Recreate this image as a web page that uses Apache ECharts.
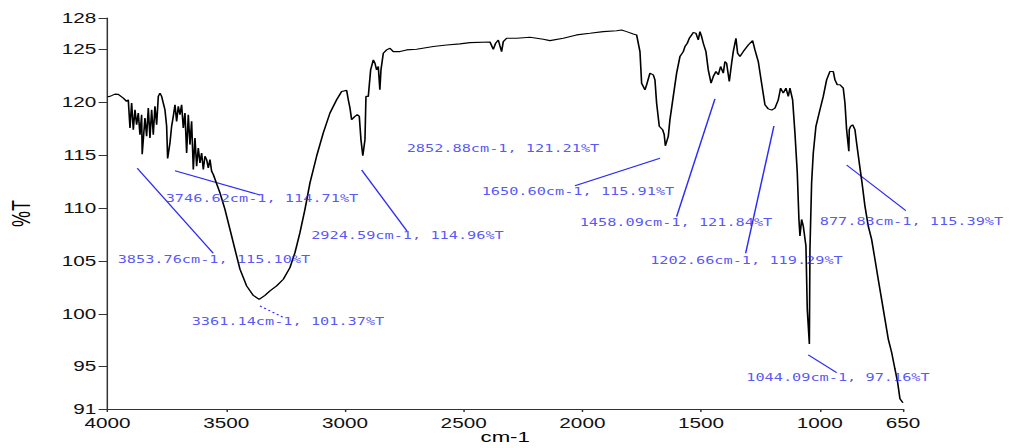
<!DOCTYPE html>
<html>
<head>
<meta charset="utf-8">
<title>FTIR spectrum</title>
<script src="https://cdn.jsdelivr.net/npm/echarts@6/dist/echarts.min.js"></script>
<style>
  html, body { margin: 0; padding: 0; background: #fff; }
  #wrap { width: 1011px; height: 448px; overflow: hidden; }
  /* the spectrometer export uses a horizontally widened raster, so the chart is laid out narrower and stretched */
  #chart { width: 683px; height: 448px; transform: scaleX(1.48023); transform-origin: 0 0; }
</style>
</head>
<body>
<div id="wrap"><div id="chart"></div></div>
<script>
// Spectrum: wavenumber (cm-1) and transmittance (%T)
const wavenumbers = [
  4000, 3989.5, 3968.4, 3954.4, 3933.3, 3919.3, 3912.3, 3905.2, 3898.2, 3891.2,
  3884.2, 3877.2, 3870.2, 3863.1, 3856.1, 3853.76, 3842.1, 3835.1, 3828.0, 3821.0,
  3814.0, 3807.0, 3800.0, 3792.9, 3785.9, 3778.9, 3771.9, 3764.9, 3757.9, 3750.8,
  3746.62, 3736.8, 3729.8, 3722.8, 3715.7, 3708.7, 3701.7, 3694.7, 3687.7, 3680.6,
  3673.6, 3666.6, 3659.6, 3652.6, 3645.6, 3638.5, 3631.5, 3624.5, 3617.5, 3610.5,
  3603.4, 3596.4, 3589.4, 3582.4, 3575.4, 3568.3, 3561.3, 3554.3, 3526.2, 3505.2,
  3484.1, 3463.1, 3442.0, 3414.0, 3385.9, 3361.14, 3336.7, 3315.7, 3287.6, 3259.5,
  3231.5, 3210.4, 3189.4, 3168.3, 3147.2, 3119.2, 3091.1, 3063.0, 3034.9, 3013.9,
  2992.8, 2985.8, 2978.8, 2971.8, 2957.7, 2947.9, 2939.5, 2932.5, 2924.59, 2915.6,
  2911.4, 2901.6, 2891.7, 2880.5, 2873.5, 2866.5, 2859.5, 2852.88, 2848.2, 2838.4,
  2824.4, 2810.3, 2796.3, 2768.2, 2740.1, 2698.0, 2627.8, 2571.7, 2515.6, 2473.4,
  2389.2, 2375.2, 2365.4, 2354.1, 2347.1, 2340.1, 2333.1, 2319.0, 2276.9, 2220.7,
  2164.6, 2136.5, 2080.4, 2024.2, 1968.1, 1911.9, 1855.8, 1834.8, 1813.7, 1785.6,
  1771.6, 1757.5, 1750.5, 1736.5, 1729.5, 1715.4, 1701.4, 1694.4, 1687.4, 1676.1,
  1662.1, 1655.3, 1650.60, 1638.2, 1631.2, 1617.2, 1603.1, 1589.1, 1575.0, 1568.0,
  1558.2, 1549.8, 1539.9, 1532.9, 1521.7, 1511.9, 1504.9, 1497.8, 1490.8, 1479.6,
  1469.8, 1458.09, 1448.7, 1437.5, 1427.6, 1417.8, 1406.6, 1399.6, 1392.6, 1381.3,
  1371.5, 1364.5, 1353.3, 1346.2, 1336.4, 1322.4, 1301.4, 1283.1, 1273.2, 1259.2,
  1245.2, 1231.1, 1217.1, 1202.66, 1189.0, 1175.0, 1165.2, 1153.9, 1142.7, 1132.9,
  1125.9, 1114.6, 1104.8, 1095.0, 1088.0, 1083.7, 1076.7, 1069.7, 1064.1, 1058.5,
  1052.9, 1044.09, 1041.6, 1034.6, 1027.6, 1016.4, 999.5, 985.5, 971.4, 957.4,
  943.4, 936.3, 926.5, 915.3, 901.3, 894.2, 887.2, 877.83, 876.0, 870.4,
  862.0, 852.1, 845.1, 833.9, 824.1, 810.0, 796.0, 781.9, 767.9, 753.9,
  739.8, 725.8, 711.8, 697.7, 683.7, 672.4, 662.6, 650
];
const transmittance = [
  120.55, 120.58, 120.80, 120.77, 120.42, 120.11, 120.26, 117.59, 119.95, 117.43,
  119.32, 117.91, 119.01, 116.96, 118.85, 115.10, 118.53, 116.81, 119.48, 116.65,
  119.32, 116.96, 119.64, 117.91, 120.58, 120.89, 120.58, 119.95, 119.32, 117.75,
  114.71, 116.18, 117.75, 118.69, 119.79, 118.22, 119.64, 118.85, 119.79, 117.59,
  119.01, 115.23, 118.85, 116.02, 118.22, 113.66, 116.65, 113.97, 115.70, 114.29,
  115.23, 113.66, 114.92, 114.60, 113.82, 114.60, 113.50, 113.19, 111.46, 109.89,
  108.00, 106.11, 104.23, 102.65, 101.75, 101.37, 101.75, 102.18, 102.65, 103.28,
  104.38, 105.80, 107.69, 109.89, 112.40, 114.92, 117.12, 119.01, 120.26, 121.05,
  121.15, 120.26, 119.50, 118.38, 118.69, 118.85, 118.69, 116.49, 114.96, 116.49,
  120.58, 120.58, 123.09, 124.04, 123.72, 123.09, 123.41, 121.21, 123.09, 124.67,
  124.98, 125.14, 124.82, 124.82, 124.98, 125.04, 125.30, 125.45, 125.55, 125.67,
  125.73, 125.04, 125.61, 125.92, 125.36, 124.82, 125.77, 126.08, 126.08, 126.18,
  125.99, 125.86, 126.08, 126.40, 126.55, 126.71, 126.80, 126.87, 126.71, 126.49,
  126.40, 124.82, 121.83, 121.21, 121.68, 122.78, 122.62, 122.15, 119.95, 117.75,
  117.43, 116.96, 115.91, 116.80, 118.38, 120.58, 122.78, 124.35, 124.82, 125.30,
  125.61, 126.08, 126.40, 126.62, 126.55, 125.92, 126.71, 126.24, 125.61, 124.82,
  123.09, 121.84, 122.46, 122.94, 122.62, 123.41, 122.78, 123.88, 123.72, 121.99,
  123.72, 124.82, 126.08, 124.67, 124.35, 124.82, 125.45, 125.86, 124.98, 123.88,
  121.83, 119.79, 119.40, 119.29, 119.48, 120.26, 121.36, 120.89, 121.36, 120.58,
  121.36, 120.26, 117.12, 113.35, 108.94, 107.37, 108.94, 108.31, 107.37, 106.43,
  100.45, 97.16, 106.11, 112.40, 115.23, 117.75, 119.32, 120.58, 122.15, 122.94,
  122.94, 122.15, 121.68, 121.68, 121.36, 119.95, 117.43, 115.39, 117.43, 117.75,
  117.90, 117.43, 116.17, 114.29, 112.71, 110.20, 108.31, 107.05, 105.17, 103.25,
  101.37, 99.51, 97.62, 96.37, 94.79, 93.53, 91.96, 91.60
];

// Axis tick values
const xTicks = [4000, 3500, 3000, 2500, 2000, 1500, 1000, 650];
const yTicks = [91, 95, 100, 105, 110, 115, 120, 125, 128];

// Picked peaks
const peakWavenumbers = [3853.76, 3746.62, 3361.14, 2924.59, 2852.88, 1650.60, 1458.09, 1202.66, 1044.09, 877.83];
const peakTransmittance = [115.10, 114.71, 101.37, 114.96, 121.21, 115.91, 121.84, 119.29, 97.16, 115.39];

// Where each peak label sits (centre, in axis units) and its leader line
const annotationLayout = [
  { at: [3551.5, 105.20], leader: [[3874.5, 113.78], [3554.5, 105.74]] },
  { at: [3349.4, 110.97], leader: [[3715.7, 113.55], [3357.8, 111.25]] },
  { at: [3239.9, 99.24],  leader: [[3357.8, 100.75], [3252.5, 99.59]], dotted: true },
  { at: [2736.6, 107.38], leader: [[2929.5, 113.62], [2738.8, 107.85]] },
  { at: [2334.5, 115.70], leader: null },
  { at: [2018.6, 111.63], leader: [[1673.3, 114.73], [2031.3, 112.13]] },
  { at: [1605.9, 108.70], leader: [[1441.7, 120.34], [1603.0, 109.20]] },
  { at: [1309.0, 105.10], leader: [[1193.3, 117.78], [1312.4, 105.74]] },
  { at: [923.7, 93.94],   leader: [[1048.8, 96.12], [929.2, 94.44]] },
  { at: [614.2, 108.79],  leader: [[887.2, 114.09], [623.5, 109.52]] }
];

const BLUE = '#2b2bf6';
const chart = echarts.init(document.getElementById('chart'), null, { renderer: 'svg' });

const leaderSeries = annotationLayout
  .filter(a => a.leader)
  .map(a => ({
    type: 'line',
    data: a.leader,
    showSymbol: false,
    symbol: 'none',
    clip: false,
    silent: true,
    z: 3,
    lineStyle: { color: BLUE, width: 1, type: a.dotted ? [1.5, 2] : 'solid' }
  }));

const labelData = annotationLayout.map((a, i) => ({
  value: a.at,
  text: peakWavenumbers[i].toFixed(2) + 'cm-1, ' + peakTransmittance[i].toFixed(2) + '%T'
}));

chart.setOption({
  animation: false,
  backgroundColor: '#ffffff',
  grid: { left: 72.6, right: 73, top: 18, bottom: 39, containLabel: false, outerBoundsMode: 'none' },
  xAxis: {
    type: 'value',
    inverse: true,
    min: 650,
    max: 4000,
    name: 'cm-1',
    nameLocation: 'middle',
    nameGap: 21,
    nameMoveOverlap: false,
    nameTextStyle: { fontFamily: 'Liberation Sans', fontSize: 15, lineHeight: 14, color: '#000' },
    axisLine: { show: true, onZero: false, lineStyle: { color: '#333', width: 1 } },
    axisTick: { show: true, length: 3, customValues: xTicks, lineStyle: { color: '#333' } },
    axisLabel: {
      customValues: xTicks, margin: 7, lineHeight: 14,
      formatter: v => String(v),
      fontFamily: 'Liberation Sans', fontSize: 14, color: '#111'
    },
    splitLine: { show: false }
  },
  yAxis: {
    type: 'value',
    min: 91,
    max: 128,
    name: '%T',
    nameLocation: 'middle',
    nameRotate: 90,
    nameGap: 50,
    nameMoveOverlap: false,
    nameTextStyle: { fontFamily: 'Liberation Sans', fontSize: 18, color: '#000' },
    axisLine: { show: true, onZero: false, lineStyle: { color: '#333', width: 1 } },
    axisTick: { show: true, length: 6, customValues: yTicks, lineStyle: { color: '#333' } },
    axisLabel: {
      customValues: yTicks, margin: 7.5, lineHeight: 12,
      formatter: v => String(v),
      fontFamily: 'Liberation Sans', fontSize: 14, color: '#111'
    },
    splitLine: { show: false }
  },
  series: [
    {
      type: 'line',
      data: wavenumbers.map((w, i) => [w, transmittance[i]]),
      showSymbol: false,
      symbol: 'none',
      silent: true,
      z: 5,
      lineStyle: { color: '#000', width: 1.1 }
    },
    ...leaderSeries,
    {
      type: 'scatter',
      data: labelData,
      symbolSize: 1,
      clip: false,
      silent: true,
      z: 6,
      itemStyle: { color: 'rgba(0,0,0,0)' },
      label: {
        show: true,
        position: 'inside',
        formatter: p => p.data.text,
        fontFamily: 'DejaVu Sans Mono',
        fontSize: 10.3,
        color: BLUE
      }
    }
  ]
});
</script>
</body>
</html>
